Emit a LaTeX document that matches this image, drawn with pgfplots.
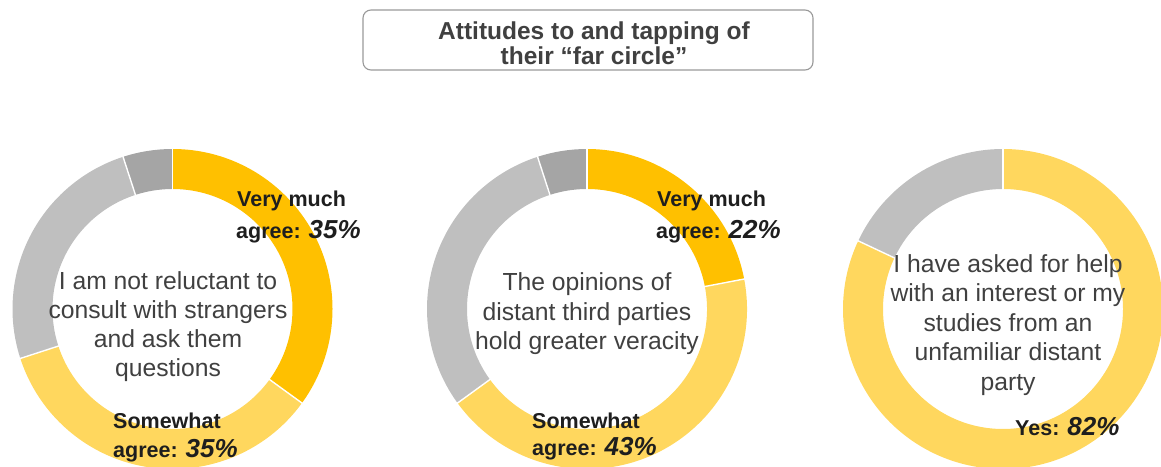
\documentclass[border=0pt]{standalone}
\usepackage{pgfplots}
\usepackage{pgfplotstable}
\pgfplotsset{compat=1.18}
\usepackage{fontspec}
\setmainfont{Liberation Sans}
\definecolor{cOrange}{HTML}{FFC000}
\definecolor{cYellow}{HTML}{FFD75E}
\definecolor{cLight}{HTML}{BFBFBF}
\definecolor{cDark}{HTML}{A5A5A5}
\definecolor{txt}{HTML}{404040}
\definecolor{lab}{HTML}{1E1E1E}

\pgfplotstableread{
value color
35 cOrange
35 cYellow
25 cLight
5 cDark
}\donutA
\pgfplotstableread{
value color
22 cOrange
43 cYellow
30 cLight
5 cDark
}\donutB
\pgfplotstableread{
value color
82 cYellow
18 cLight
}\donutC

% #1 table, #2 cx, #3 cy (axis units = pt)
\newcommand\donut[3]{%
  \pgfplotstablegetrowsof{#1}%
  \pgfmathtruncatemacro\nrows{\pgfplotsretval-1}%
  \gdef\curang{90}%
  \foreach \i in {0,...,\nrows}{%
    \pgfplotstablegetelem{\i}{value}\of{#1}\let\v\pgfplotsretval
    \pgfplotstablegetelem{\i}{color}\of{#1}\let\c\pgfplotsretval
    \pgfmathsetmacro\nextang{\curang-3.6*\v}%
    \edef\tmp{\noexpand\draw[line width=40pt,\c] (axis cs:#2,#3) ++(\curang:140pt) arc[start angle=\curang,end angle=\nextang,radius=140pt];}%
    \tmp
    \xdef\curang{\nextang}%
  }%
  \gdef\curang{90}%
  \foreach \i in {0,...,\nrows}{%
    \pgfplotstablegetelem{\i}{value}\of{#1}\let\v\pgfplotsretval
    \pgfmathsetmacro\nextang{\curang-3.6*\v}%
    \edef\tmp{\noexpand\draw[line width=1.4pt,white] (axis cs:#2,#3) ++(\curang:118pt) -- ++(\curang:44pt);}%
    \tmp
    \xdef\curang{\nextang}%
  }%
}

\begin{document}
\begin{tikzpicture}
\begin{axis}[
  x=1pt, y=1pt, xmin=0, xmax=1161, ymin=0, ymax=466,
  hide axis, scale only axis, clip=true,
]
\donut{\donutA}{172.5}{157}
\donut{\donutB}{587}{157}
\donut{\donutC}{1003}{157}

% title box
\draw[rounded corners=8pt, draw=black!40, line width=1.1pt] (axis cs:363,396) rectangle (axis cs:813,456);
\node[font=\fontsize{24.5}{25}\selectfont\bfseries, text=txt, align=center] at (axis cs:594,422.5)
  {Attitudes to and tapping of\\their “far circle”};

% centre texts
\node[font=\fontsize{24.7}{29}\selectfont, text=txt, align=center] at (axis cs:168,139)
  {I am not reluctant to\\consult with strangers\\and ask them\\questions};
\node[font=\fontsize{24.7}{29.5}\selectfont, text=txt, align=center] at (axis cs:587,152)
  {The opinions of\\distant third parties\\hold greater veracity};
\node[font=\fontsize{24.7}{29.5}\selectfont, text=txt, align=center] at (axis cs:1008,141)
  {I have asked for help\\with an interest or my\\studies from an\\unfamiliar distant\\party};

% labels
\node[anchor=base west, inner sep=0pt, text=lab, font=\fontsize{21.5}{24}\selectfont\bfseries] at (axis cs:237,259) {Very much};
\node[anchor=base west, inner sep=0pt, text=lab, font=\fontsize{21.5}{24}\selectfont\bfseries] at (axis cs:236,227) {agree: {\fontsize{26}{28}\selectfont\itshape 35\%}};
\node[anchor=base west, inner sep=0pt, text=lab, font=\fontsize{21.5}{24}\selectfont\bfseries] at (axis cs:113,38) {Somewhat};
\node[anchor=base west, inner sep=0pt, text=lab, font=\fontsize{21.5}{24}\selectfont\bfseries] at (axis cs:113,9) {agree: {\fontsize{26}{28}\selectfont\itshape 35\%}};

\node[anchor=base west, inner sep=0pt, text=lab, font=\fontsize{21.5}{24}\selectfont\bfseries] at (axis cs:657,259) {Very much};
\node[anchor=base west, inner sep=0pt, text=lab, font=\fontsize{21.5}{24}\selectfont\bfseries] at (axis cs:656,227) {agree: {\fontsize{26}{28}\selectfont\itshape 22\%}};
\node[anchor=base west, inner sep=0pt, text=lab, font=\fontsize{21.5}{24}\selectfont\bfseries] at (axis cs:532,38) {Somewhat};
\node[anchor=base west, inner sep=0pt, text=lab, font=\fontsize{21.5}{24}\selectfont\bfseries] at (axis cs:532,11) {agree: {\fontsize{26}{28}\selectfont\itshape 43\%}};

\node[anchor=base west, inner sep=0pt, text=lab, font=\fontsize{21.5}{24}\selectfont\bfseries] at (axis cs:1015,31) {Yes: {\fontsize{26}{28}\selectfont\itshape 82\%}};
\end{axis}
\pgfresetboundingbox
\path[use as bounding box] (current axis.south west) rectangle (current axis.north east);
\end{tikzpicture}
\end{document}
